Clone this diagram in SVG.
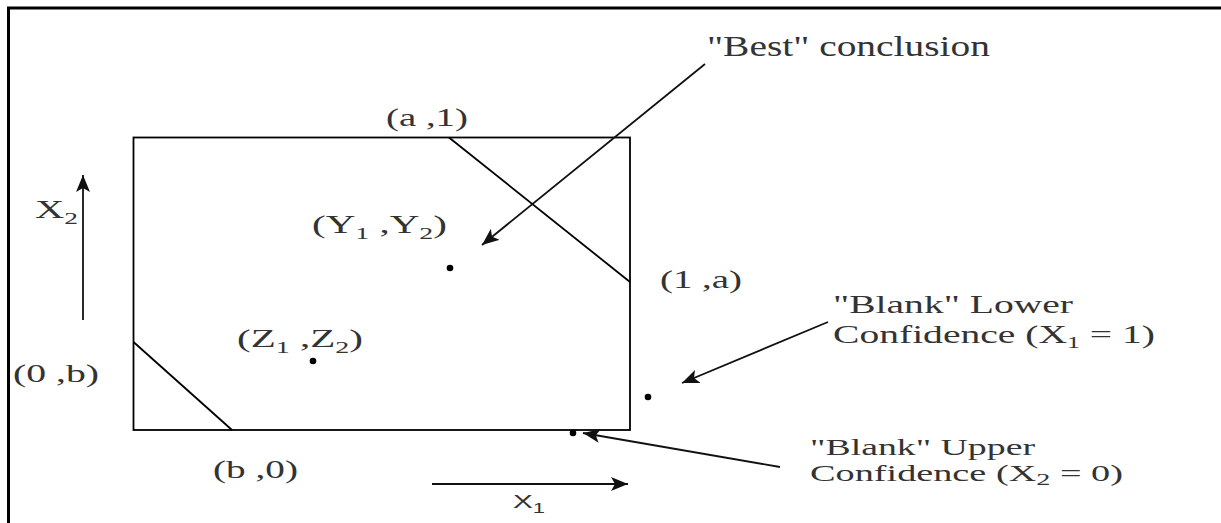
<svg xmlns="http://www.w3.org/2000/svg" width="1221" height="523" viewBox="0 0 1221 523">
  <style>
    .ln { stroke: #000; stroke-width: 1.8; fill: none; }
    .ar { stroke: #111; stroke-width: 1.8; fill: none; marker-end: url(#ah); }
    .t { font-family: "Liberation Serif", "Times New Roman", serif; fill: #333; }
    .c { font-size: 25px; }
    .n { font-size: 26px; }
    .u { font-size: 23px; }
    .s { font-size: 17px; }
    .dot { fill: #000; }
  </style>
  <defs>
    <marker id="ah" markerUnits="userSpaceOnUse" markerWidth="18" markerHeight="14" refX="17" refY="7" orient="auto">
      <path d="M0,0 L17,7 L0,14 L4,7 z" fill="#111"/>
    </marker>
  </defs>
  <rect width="1221" height="523" fill="#fff"/>
  <g id="frame">
    <path d="M8.5,523 V8 H1221" stroke="#000" stroke-width="3" fill="none"/>
  </g>
  <g id="square">
    <rect x="133.5" y="137.5" width="496.5" height="292.5" class="ln"/>
    <line x1="449" y1="137.5" x2="630" y2="282" class="ln"/>
    <line x1="133.5" y1="342" x2="232" y2="430" class="ln"/>
  </g>
  <g id="points">
    <circle cx="450" cy="268" r="3.3" class="dot"/>
    <circle cx="313" cy="361" r="3.3" class="dot"/>
    <circle cx="648" cy="397" r="3.3" class="dot"/>
    <circle cx="573" cy="433" r="3.3" class="dot"/>
  </g>
  <g id="connectors">
    <line x1="705" y1="64" x2="482" y2="245" class="ar"/>
    <line x1="828" y1="322" x2="682" y2="383" class="ar"/>
    <line x1="780" y1="467" x2="583" y2="433" class="ar"/>
    <line x1="83" y1="320" x2="83" y2="175" class="ar"/>
    <line x1="432" y1="484" x2="628" y2="484" class="ar"/>
  </g>
  <g id="labels">
    <text class="t" x="707" y="56" font-size="29" textLength="283" lengthAdjust="spacingAndGlyphs">"Best" conclusion</text>
    <text class="t c" x="386" y="126" textLength="82" lengthAdjust="spacingAndGlyphs">(a ,1)</text>
    <text class="t c" x="312" y="233" textLength="135" lengthAdjust="spacingAndGlyphs">(Y<tspan class="s" dy="6">1</tspan><tspan dy="-6"> ,Y</tspan><tspan class="s" dy="6">2</tspan><tspan dy="-6">)</tspan></text>
    <text class="t c" x="660" y="288" textLength="82" lengthAdjust="spacingAndGlyphs">(1 ,a)</text>
    <text class="t c" x="237" y="347" textLength="126" lengthAdjust="spacingAndGlyphs">(Z<tspan class="s" dy="6">1</tspan><tspan dy="-6"> ,Z</tspan><tspan class="s" dy="6">2</tspan><tspan dy="-6">)</tspan></text>
    <text class="t c" x="13" y="382" textLength="86" lengthAdjust="spacingAndGlyphs">(0 ,b)</text>
    <text class="t c" x="213" y="478" textLength="85" lengthAdjust="spacingAndGlyphs">(b ,0)</text>
    <text class="t c" x="35" y="218" textLength="43" lengthAdjust="spacingAndGlyphs">X<tspan class="s" dy="6">2</tspan></text>
    <text x="513" y="508" font-family="Liberation Sans, Arial, sans-serif" font-size="19" fill="#333" textLength="32" lengthAdjust="spacingAndGlyphs">X<tspan font-size="14" dy="5">1</tspan></text>
    <text class="t n" x="833" y="313" textLength="240" lengthAdjust="spacingAndGlyphs">"Blank" Lower</text>
    <text class="t n" x="833" y="343" textLength="322" lengthAdjust="spacingAndGlyphs">Confidence (X<tspan class="s" dy="5">1</tspan><tspan dy="-5"> = 1)</tspan></text>
    <text class="t u" x="810" y="455" textLength="225" lengthAdjust="spacingAndGlyphs">"Blank" Upper</text>
    <text class="t u" x="810" y="481" textLength="313" lengthAdjust="spacingAndGlyphs">Confidence (X<tspan class="s" dy="4">2</tspan><tspan dy="-4"> = 0)</tspan></text>
  </g>
</svg>
